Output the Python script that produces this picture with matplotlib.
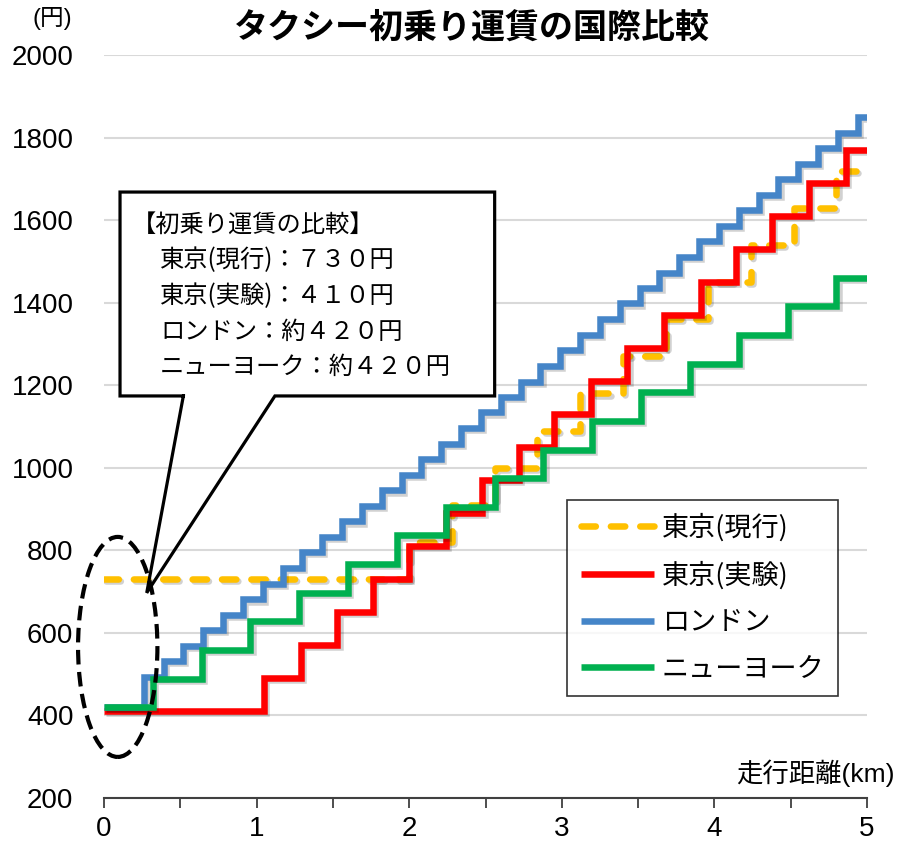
import matplotlib
matplotlib.use("Agg")
import matplotlib.pyplot as plt
from matplotlib import font_manager
from matplotlib.patches import Ellipse, Rectangle
import matplotlib.patheffects as pe

# fare steps: distance (km) where the meter jumps, and fare (yen) after each jump
TOKYO_NOW_BASE = 730
TOKYO_NOW_KM = [2.00, 2.28, 2.56, 2.84, 3.12, 3.40, 3.68, 3.96, 4.24, 4.52, 4.80]
TOKYO_NOW_YEN = [820, 910, 1000, 1090, 1180, 1270, 1360, 1450, 1540, 1630, 1720]

TOKYO_EXP_BASE = 410
TOKYO_EXP_KM = [1.05, 1.29, 1.53, 1.76, 2.00, 2.24, 2.48, 2.72, 2.95, 3.19,
                3.43, 3.67, 3.91, 4.14, 4.38, 4.62, 4.86]
TOKYO_EXP_YEN = [490, 570, 650, 730, 810, 890, 970, 1050, 1130, 1210,
                 1290, 1370, 1450, 1530, 1610, 1690, 1770]

LONDON_BASE = 420
LONDON_KM = [0.26, 0.39, 0.52, 0.65, 0.78, 0.91, 1.04, 1.17, 1.30, 1.43,
             1.56, 1.69, 1.82, 1.95, 2.08, 2.21, 2.34, 2.47, 2.60, 2.73,
             2.86, 2.99, 3.12, 3.25, 3.38, 3.51, 3.64, 3.77, 3.90, 4.03,
             4.16, 4.29, 4.42, 4.55, 4.68, 4.81, 4.94]
LONDON_YEN = [493, 531, 568, 606, 644, 681, 719, 757, 795, 832,
              870, 908, 945, 983, 1021, 1058, 1096, 1134, 1172, 1209,
              1247, 1285, 1322, 1360, 1398, 1435, 1473, 1511, 1549, 1586,
              1624, 1662, 1699, 1737, 1775, 1812, 1850]

NY_BASE = 420
NY_KM = [0.32, 0.64, 0.96, 1.28, 1.60, 1.92, 2.24, 2.56, 2.88, 3.20,
         3.52, 3.84, 4.16, 4.48, 4.80]
NY_YEN = [489, 559, 628, 697, 767, 836, 905, 975, 1044, 1113,
          1183, 1252, 1321, 1391, 1460]

SERIES_NAMES = ["東京(現行)", "東京(実験)", "ロンドン", "ニューヨーク"]
SERIES_COLORS = ["#FFC000", "#FF0000", "#4585C8", "#00B050"]

CALLOUT_LINES = ["【初乗り運賃の比較】",
                 "東京(現行)：７３０円",
                 "東京(実験)：４１０円",
                 "ロンドン：約４２０円",
                 "ニューヨーク：約４２０円"]

TITLE = "タクシー初乗り運賃の国際比較"
X_LABEL = "走行距離(km)"
Y_UNIT = "(円)"
X_MAX = 5.0

installed = {f.name for f in font_manager.fontManager.ttflist}
latin = "Liberation Sans Narrow" if "Liberation Sans Narrow" in installed else "Liberation Sans"
plt.rcParams['font.family'] = [latin, 'Noto Sans CJK JP', 'DejaVu Sans']
CJK = ['Noto Sans CJK JP', 'DejaVu Sans']

fig = plt.figure(figsize=(9, 8.42), dpi=100)
ax = fig.add_axes([104/900, 1-798/842, 763/900, 743/842])

ax.set_xlim(0, X_MAX)
ax.set_ylim(200, 2000)
ax.set_yticks(range(200, 2001, 200))
ax.set_xticks(range(0, 6))
ax.set_xticks([0.5, 1.5, 2.5, 3.5, 4.5], minor=True)
ax.grid(axis='y', color='#d9d9d9', linewidth=1.5)
ax.set_axisbelow(True)
for s in ['left', 'right', 'top']:
    ax.spines[s].set_visible(False)
ax.spines['bottom'].set_color('#404040')
ax.spines['bottom'].set_linewidth(1.5)
ax.tick_params(axis='y', length=0, pad=22, labelsize=20)
ax.tick_params(axis='x', which='both', direction='out', length=7, width=1.3,
               color='#404040', labelsize=20, pad=6)

shadow = [pe.SimpleLineShadow(offset=(1.5, -1.5), shadow_color='k', alpha=0.18),
          pe.Normal()]

series = [(TOKYO_NOW_BASE, TOKYO_NOW_KM, TOKYO_NOW_YEN),
          (TOKYO_EXP_BASE, TOKYO_EXP_KM, TOKYO_EXP_YEN),
          (LONDON_BASE, LONDON_KM, LONDON_YEN),
          (NY_BASE, NY_KM, NY_YEN)]

for i, (base, km, yen) in enumerate(series):
    xs = [0] + km + [X_MAX]
    ys = [base] + yen + [yen[-1]]
    line, = ax.step(xs, ys, where='post', color=SERIES_COLORS[i], lw=4.7,
                    label=SERIES_NAMES[i], solid_joinstyle='miter',
                    solid_capstyle='butt', zorder=3 + i)
    line.set_path_effects(shadow)
    if i == 0:
        line.set_dashes((2.2, 2.3))
        line.set_dash_capstyle('round')

leg = ax.legend(loc='upper left', bbox_to_anchor=(567/900, 1-500/842),
                bbox_transform=fig.transFigure, prop={'family': CJK, 'size': 19.5},
                frameon=True, fancybox=False, edgecolor='black',
                handlelength=2.7, handletextpad=0.3, labelspacing=0.72,
                borderpad=0.5, borderaxespad=0)
leg.get_frame().set_linewidth(1.2)
for h in leg.get_lines():
    h.set_path_effects([])

# dashed ellipse round the starting fares
ax.add_patch(Ellipse((0.09, 566), 0.52, 533, fill=False, edgecolor='black',
                     lw=3, linestyle=(0, (3.5, 1.8)), clip_on=False, zorder=10))

# callout box with pointer
bx0, bx1, by0, by1 = 0.105, 2.56, 1174, 1668
ax.add_patch(Rectangle((bx0, by0), bx1 - bx0, by1 - by0, facecolor='white',
                       edgecolor='none', zorder=8))
outline_x = [0.52, bx0, bx0, bx1, bx1, 1.12, 0.28, 0.52]
outline_y = [by0, by0, by1, by1, by0, by0, 697, by0]
ax.plot(outline_x, outline_y, color='black', lw=2.3, solid_joinstyle='miter',
        zorder=9, clip_on=False)

for j, txt in enumerate(CALLOUT_LINES):
    x0 = 132 if j == 0 else 160
    fig.text(x0/900, 1-(225 + 35.5*j)/842, txt, family=CJK, fontsize=17.5,
             va='center', ha='left', zorder=11)

fig.text(472/900, 1-27/842, TITLE, family=CJK, fontsize=24.5, fontweight='bold',
         ha='center', va='center')
fig.text(52/900, 1-19/842, Y_UNIT, fontsize=17, ha='center', va='center')
fig.text(895/900, 1-773/842, X_LABEL, fontsize=19, ha='right', va='center')

fig.savefig("out.png", dpi=100)
